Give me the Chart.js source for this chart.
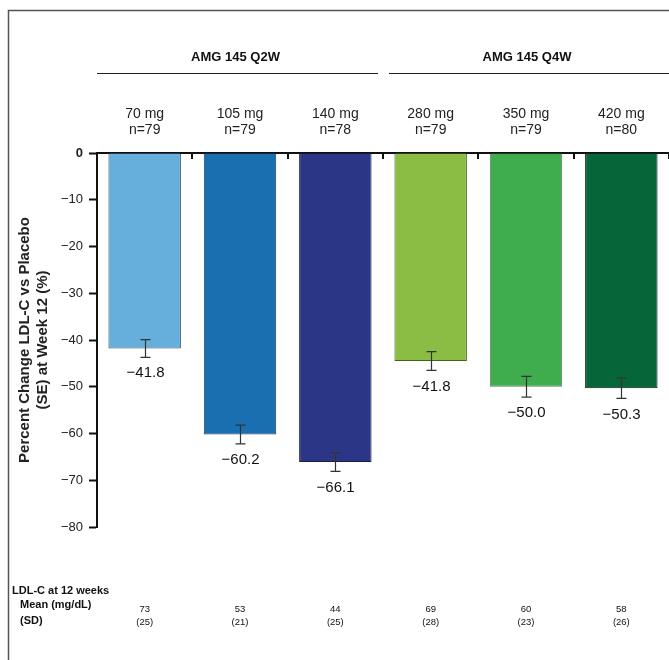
<!DOCTYPE html>
<html>
<head>
<meta charset="utf-8">
<script src="https://cdn.jsdelivr.net/npm/chart.js@4/dist/chart.umd.min.js"></script>
<style>
  html, body { margin: 0; padding: 0; background: #fff; }
  #wrap { width: 669px; height: 660px; position: relative; }
</style>
</head>
<body>
<div id="wrap"><canvas id="ldlChart"></canvas></div>
<script>
// data
const doses = ['70 mg', '105 mg', '140 mg', '280 mg', '350 mg', '420 mg'];
const nCounts = ['n=79', 'n=79', 'n=78', 'n=79', 'n=79', 'n=80'];
const groups = ['AMG 145 Q2W', 'AMG 145 Q4W'];
const changes = [-41.8, -60.2, -66.1, -44.5, -50.0, -50.3];
const valueLabels = ['\u221241.8', '\u221260.2', '\u221266.1', '\u221241.8', '\u221250.0', '\u221250.3'];
const stdErr = [1.9, 2.0, 2.0, 2.0, 2.2, 2.2];
const meanLdl = ['73', '53', '44', '69', '60', '58'];
const sdLdl = ['(25)', '(21)', '(25)', '(28)', '(23)', '(26)'];
const yTicks = [0, -10, -20, -30, -40, -50, -60, -70, -80];

const barColors = ['#66aedb', '#1a6fb0', '#2b3786', '#8bbd45', '#3fad4e', '#07653a'];
const barEdges = ['#2f4f66', '#143d60', '#161c44', '#44601e', '#5d7a60', '#07200f'];
const FONT = 'Liberation Sans, Arial, sans-serif';

const extras = {
  id: 'extras',
  afterDatasetsDraw(chart) {
    const c = chart.ctx;
    const x = chart.scales.x, y = chart.scales.y;
    const half = (x.getPixelForValue(1) - x.getPixelForValue(0)) / 2;
    c.save();

    // frame
    c.strokeStyle = '#555';
    c.lineWidth = 1.5;
    c.beginPath();
    c.moveTo(8.5, 660); c.lineTo(8.5, 10.5); c.lineTo(669, 10.5);
    c.stroke();

    // inward tick marks on the zero line at category borders
    c.strokeStyle = '#111';
    c.lineWidth = 2;
    for (let i = 1; i <= doses.length; i++) {
      const px = Math.round(x.getPixelForValue(i - 1) + half);
      c.beginPath();
      c.moveTo(px, y.top); c.lineTo(px, y.top + 6);
      c.stroke();
    }

    // error bars and value labels
    c.strokeStyle = '#333';
    c.lineWidth = 1.2;
    c.fillStyle = '#111';
    c.font = '15px ' + FONT;
    c.textAlign = 'center';
    c.textBaseline = 'middle';
    changes.forEach((v, i) => {
      const cx = Math.round(x.getPixelForValue(i)) + 0.5;
      const hi = y.getPixelForValue(v + stdErr[i]);
      const lo = y.getPixelForValue(v - stdErr[i]);
      c.beginPath();
      c.moveTo(cx, hi); c.lineTo(cx, lo);
      c.moveTo(cx - 5, hi); c.lineTo(cx + 5, hi);
      c.moveTo(cx - 5, lo); c.lineTo(cx + 5, lo);
      c.stroke();
      c.fillText(valueLabels[i], cx, lo + 16);
    });

    // group headers
    c.font = 'bold 13px ' + FONT;
    c.strokeStyle = '#222';
    c.lineWidth = 1.2;
    groups.forEach((g, gi) => {
      const l = x.getPixelForValue(gi * 3) - half + (gi ? 6 : 0);
      const r = Math.min(x.getPixelForValue(gi * 3 + 2) + half - (gi ? 0 : 5), 669);
      c.fillText(g, (l + r) / 2 - 2, 57);
      c.beginPath();
      c.moveTo(l, 73.5); c.lineTo(r, 73.5);
      c.stroke();
    });

    // LDL-C table under the plot
    c.textAlign = 'left';
    c.font = 'bold 11px ' + FONT;
    c.fillText('LDL-C at 12 weeks', 12, 591);
    c.fillText('Mean (mg/dL)', 20, 605);
    c.fillText('(SD)', 20, 621);
    c.textAlign = 'center';
    c.font = '9.5px ' + FONT;
    meanLdl.forEach((m, i) => {
      const cx = x.getPixelForValue(i);
      c.fillText(m, cx, 609);
      c.fillText(sdLdl[i], cx, 622);
    });
    c.restore();
  }
};

new Chart(document.getElementById('ldlChart').getContext('2d'), {
  type: 'bar',
  data: {
    labels: doses.map((d, i) => [d, nCounts[i]]),
    datasets: [{
      data: changes,
      backgroundColor: barColors,
      borderColor: barEdges,
      borderWidth: 1,
      categoryPercentage: 1,
      barPercentage: 0.76
    }]
  },
  options: {
    responsive: true,
    maintainAspectRatio: false,
    animation: false,
    layout: { padding: { top: 83, right: 0, bottom: 133, left: 0 } },
    plugins: { legend: { display: false }, tooltip: { enabled: false } },
    scales: {
      x: {
        position: 'top',
        afterFit: s => { s.height = 70; },
        grid: { display: false },
        border: { color: '#111', width: 2 },
        ticks: { color: '#222', padding: 6, font: { family: FONT, size: 14, lineHeight: 1.2 } }
      },
      y: {
        min: -80,
        max: 0,
        afterFit: s => { s.width = 97; },
        afterBuildTicks: s => { s.ticks = yTicks.map(v => ({ value: v })); },
        grid: { drawOnChartArea: false, tickLength: 8, color: '#111', tickWidth: 2 },
        border: { color: '#111', width: 2 },
        ticks: {
          color: '#222',
          padding: 6,
          font: ctx => ({ family: FONT, size: 13, weight: ctx.tick && ctx.tick.value === 0 ? 'bold' : 'normal' }),
          callback: v => (v === 0 ? '0' : '\u2212' + Math.abs(v))
        },
        title: {
          display: true,
          text: ['Percent Change LDL-C vs Placebo', '(SE) at Week 12 (%)'],
          color: '#222',
          font: { family: FONT, size: 15, weight: 'bold', lineHeight: 1.2 },
          padding: { top: 16, bottom: 0 }
        }
      }
    }
  },
  plugins: [extras]
});
</script>
</body>
</html>
